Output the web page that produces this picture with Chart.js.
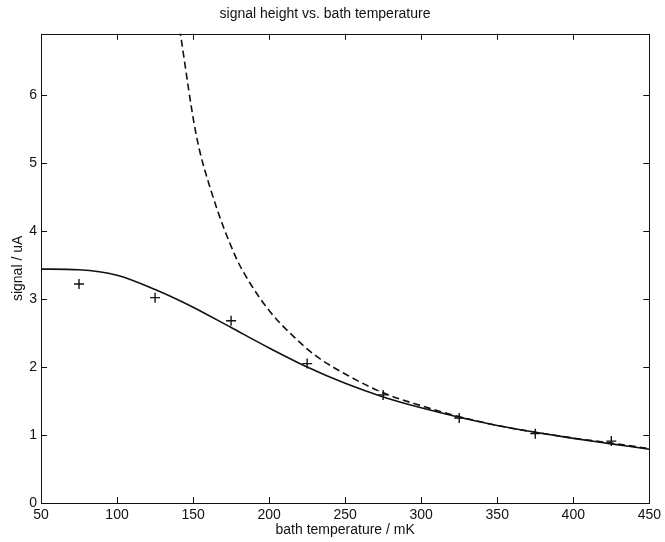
<!DOCTYPE html>
<html>
<head>
<meta charset="utf-8">
<script src="https://cdn.jsdelivr.net/npm/chart.js@4.4.1/dist/chart.umd.min.js"></script>
<style>
  html, body { margin: 0; padding: 0; background: #fff; }
  #chart { display: block; }
</style>
</head>
<body>
<canvas id="chart" width="665" height="542"></canvas>
<script>
// measured points (+)
const measT = [75, 125, 175, 225, 275, 325, 375, 425];
const measSignal = [3.22, 3.02, 2.68, 2.05, 1.59, 1.25, 1.02, 0.91];

// solid fit curve
const fitT = [50, 75, 100, 125, 150, 175, 200, 225, 250, 275, 300, 325, 350, 375, 400, 425, 450];
const fitSignal = [3.44, 3.43, 3.35, 3.14, 2.88, 2.58, 2.28, 2.00, 1.76, 1.56, 1.40, 1.26, 1.14, 1.04, 0.95, 0.87, 0.79];

// dashed curve
const modelT = [138, 142, 152, 162, 178, 187, 200, 216, 231, 253, 275, 300, 325, 350, 375, 400, 425, 450];
const modelSignal = [7.45, 6.85, 5.42, 4.58, 3.62, 3.25, 2.83, 2.45, 2.16, 1.86, 1.62, 1.43, 1.27, 1.14, 1.04, 0.955, 0.88, 0.80];

const xTicks = [50, 100, 150, 200, 250, 300, 350, 400, 450];
const yTicks = [0, 1, 2, 3, 4, 5, 6];

const FONT = 'Liberation Sans, Arial, Helvetica, sans-serif';
const INK = '#111';

function toPoints(xs, ys) {
    return xs.map((x, i) => ({ x: x, y: ys[i] }));
}

// MATLAB style box with inward ticks
const boxPlugin = {
    id: 'matlabBox',
    afterDatasetsDraw(chart) {
        const { ctx, chartArea: a, scales } = chart;
        const len = 6;
        ctx.save();
        ctx.strokeStyle = INK;
        ctx.lineWidth = 1;
        ctx.beginPath();
        scales.x.ticks.forEach(t => {
            const px = Math.round(scales.x.getPixelForValue(t.value)) + 0.5;
            ctx.moveTo(px, a.bottom); ctx.lineTo(px, a.bottom - len);
            ctx.moveTo(px, a.top); ctx.lineTo(px, a.top + len);
        });
        scales.y.ticks.forEach(t => {
            const py = Math.round(scales.y.getPixelForValue(t.value)) + 0.5;
            ctx.moveTo(a.left, py); ctx.lineTo(a.left + len, py);
            ctx.moveTo(a.right, py); ctx.lineTo(a.right - len, py);
        });
        ctx.stroke();
        ctx.strokeRect(Math.round(a.left) + 0.5, Math.round(a.top) + 0.5,
            Math.round(a.right - a.left), Math.round(a.bottom - a.top));
        ctx.restore();
    }
};

new Chart(document.getElementById('chart'), {
    type: 'scatter',
    data: {
        datasets: [
            {
                label: 'fit',
                data: toPoints(fitT, fitSignal),
                showLine: true,
                borderColor: INK,
                borderWidth: 1.6,
                pointRadius: 0,
                cubicInterpolationMode: 'monotone'
            },
            {
                label: 'model',
                data: toPoints(modelT, modelSignal),
                showLine: true,
                borderColor: INK,
                borderWidth: 1.6,
                borderDash: [7, 4],
                pointRadius: 0,
                cubicInterpolationMode: 'monotone'
            },
            {
                label: 'measured',
                data: toPoints(measT, measSignal),
                showLine: false,
                pointStyle: 'cross',
                pointRadius: 5,
                borderColor: INK,
                borderWidth: 1.4,
                backgroundColor: INK
            }
        ]
    },
    options: {
        responsive: false,
        animation: false,
        layout: { padding: { right: 15 } },
        plugins: {
            legend: { display: false },
            tooltip: { enabled: false },
            title: {
                display: true,
                text: 'signal height vs. bath temperature',
                color: INK,
                font: { family: FONT, size: 14, weight: 'normal' },
                padding: { top: 6, bottom: 11 }
            }
        },
        scales: {
            x: {
                type: 'linear',
                min: 50,
                max: 450,
                afterBuildTicks: s => { s.ticks = xTicks.map(v => ({ value: v })); },
                afterFit: s => { s.height = 39; },
                grid: { display: false, drawTicks: false },
                border: { display: false },
                ticks: {
                    color: INK,
                    padding: 4,
                    maxRotation: 0,
                    font: { family: FONT, size: 14 }
                },
                title: {
                    display: true,
                    text: 'bath temperature / mK',
                    color: INK,
                    font: { family: FONT, size: 14 },
                    padding: { top: 0, bottom: 3 }
                }
            },
            y: {
                type: 'linear',
                min: 0,
                max: 6.9,
                afterBuildTicks: s => { s.ticks = yTicks.map(v => ({ value: v })); },
                afterFit: s => { s.width = 41; },
                grid: { display: false, drawTicks: false },
                border: { display: false },
                ticks: {
                    color: INK,
                    padding: 4,
                    font: { family: FONT, size: 14 }
                },
                title: {
                    display: true,
                    text: 'signal / uA',
                    color: INK,
                    font: { family: FONT, size: 14 },
                    padding: { top: 10, bottom: 0 }
                }
            }
        }
    },
    plugins: [boxPlugin]
});
</script>
</body>
</html>
